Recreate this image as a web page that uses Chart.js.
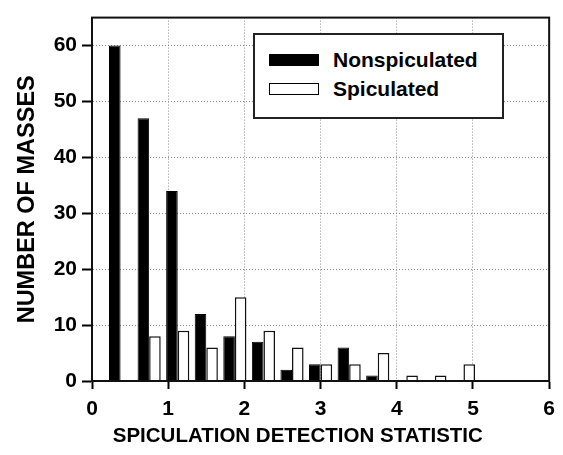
<!DOCTYPE html>
<html>
<head>
<meta charset="utf-8">
<script src="https://cdn.jsdelivr.net/npm/chart.js@4"></script>
<style>
  body { margin: 0; background: #fff; }
  #wrap { position: relative; width: 563px; height: 455px; }
  #legend {
    position: absolute; left: 253px; top: 33px; width: 247px; height: 82px;
    border: 2px solid #222; background: #fff;
    font: bold 21px "Liberation Sans", Arial, sans-serif; color: #000;
  }
  .row { position: absolute; left: 14px; display: flex; align-items: center; }
  .swatch { width: 48px; height: 10px; border: 1.5px solid #000; margin-right: 14px; }
</style>
</head>
<body>
<div id="wrap">
  <canvas id="chart" width="563" height="455"></canvas>
  <div id="legend"></div>
</div>
<script>
// ===== Data =====
// bin centres of each bar pair (detection statistic)
const binCentres = [0.375, 0.75, 1.125, 1.5, 1.875, 2.25, 2.625, 3.0, 3.375, 3.75, 4.125, 4.5, 4.875];
const nonspiculated = [60, 47, 34, 12, 8, 7, 2, 3, 6, 1, 0, 0, 0];
const spiculated = [0, 8, 9, 6, 15, 9, 6, 3, 3, 5, 1, 1, 3];
const seriesLabels = ['Nonspiculated', 'Spiculated'];
const xTicks = [0, 1, 2, 3, 4, 5, 6];
const yTicks = [0, 10, 20, 30, 40, 50, 60];

const FONT = '"Liberation Sans", Arial, sans-serif';

function toPoints(values) {
  return values.map((v, i) => ({ x: binCentres[i], y: v }));
}

// ===== Frame plugin (full box round the plot) =====
const framePlugin = {
  id: 'frame',
  afterDraw(chart) {
    const { ctx, chartArea: a } = chart;
    ctx.save();
    ctx.strokeStyle = '#111';
    ctx.lineWidth = 2;
    ctx.strokeRect(a.left, a.top, a.right - a.left, a.bottom - a.top);
    ctx.restore();
  }
};

const gridOpts = (tickLength) => ({
  offset: false,
  color: '#8a8a8a',
  lineWidth: 1,
  tickLength,
  tickColor: '#000',
  tickBorderDash: [],
  tickWidth: 2
});

const chart = new Chart(document.getElementById('chart'), {
  type: 'bar',
  data: {
    datasets: [
      {
        label: seriesLabels[0],
        data: toPoints(nonspiculated),
        backgroundColor: '#000',
        borderColor: '#000',
        borderWidth: 1,
        categoryPercentage: 0.81,
        barPercentage: 1.0
      },
      {
        label: seriesLabels[1],
        data: toPoints(spiculated),
        backgroundColor: '#fff',
        borderColor: '#111',
        borderWidth: 1.5,
        categoryPercentage: 0.81,
        barPercentage: 1.0
      }
    ]
  },
  options: {
    responsive: false,
    animation: false,
    layout: { padding: { top: 7, right: 11, left: 0, bottom: 0 } },
    plugins: { legend: { display: false }, tooltip: { enabled: false } },
    scales: {
      x: {
        type: 'linear',
        offset: false,
        min: 0,
        max: 6,
        afterBuildTicks: s => { s.ticks = xTicks.map(v => ({ value: v })); },
        afterFit: s => { s.height = 74; },
        ticks: {
          color: '#000',
          padding: 8,
          font: { family: FONT, size: 21, weight: 'bold' }
        },
        grid: gridOpts(8),
        border: { color: '#111', width: 2, dash: [1, 2] },
        title: {
          display: true,
          // trailing spaces nudge the centred title left, as in the figure
          text: 'SPICULATION DETECTION STATISTIC        ',
          color: '#000',
          padding: { top: 0, bottom: 6 },
          font: { family: FONT, size: 20.5, weight: 'bold' }
        }
      },
      y: {
        min: 0,
        max: 65,
        afterBuildTicks: s => { s.ticks = yTicks.map(v => ({ value: v })); },
        afterFit: s => { s.width = 92; },
        ticks: {
          color: '#000',
          padding: 5,
          font: { family: FONT, size: 21, weight: 'bold' }
        },
        grid: gridOpts(10),
        border: { color: '#111', width: 2, dash: [1, 2] },
        title: {
          display: true,
          text: 'NUMBER OF MASSES',
          color: '#000',
          padding: { top: 13, bottom: 0 },
          font: { family: FONT, size: 23.5, weight: 'bold' }
        }
      }
    }
  },
  plugins: [framePlugin]
});

// ===== Legend =====
const legendEl = document.getElementById('legend');
chart.data.datasets.forEach((ds, i) => {
  const row = document.createElement('div');
  row.className = 'row';
  row.style.top = (i === 0 ? 13 : 42) + 'px';
  row.innerHTML = `<span class="swatch" style="background:${ds.backgroundColor}"></span><span>${ds.label}</span>`;
  legendEl.appendChild(row);
});
</script>
</body>
</html>
